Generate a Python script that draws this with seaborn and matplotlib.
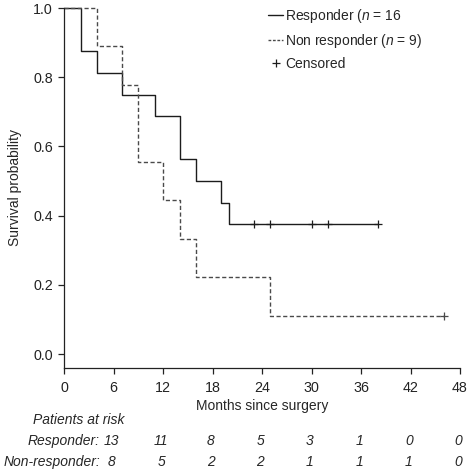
import matplotlib
matplotlib.use("Agg")
import matplotlib.pyplot as plt
import matplotlib.transforms as mtransforms
from matplotlib.lines import Line2D
import seaborn as sns
import pandas as pd

# ---- data ----
resp_times = [0, 2, 4, 7, 11, 14, 16, 19, 20, 38]
resp_surv = [1.0, 0.875, 0.8125, 0.75, 0.6875, 0.5625, 0.5, 0.4375, 0.375, 0.375]
resp_cens_t = [23, 25, 30, 32, 38]
resp_cens_s = [0.375, 0.375, 0.375, 0.375, 0.375]

non_times = [0, 4, 7, 9, 12, 14, 16, 25, 46]
non_surv = [1.0, 0.889, 0.778, 0.556, 0.444, 0.333, 0.222, 0.111, 0.111]
non_cens_t = [46]
non_cens_s = [0.111]

x_ticks = [0, 6, 12, 18, 24, 30, 36, 42, 48]
y_ticks = [0.0, 0.2, 0.4, 0.6, 0.8, 1.0]
risk_times = [6, 12, 18, 24, 30, 36, 42, 48]
risk_resp = [13, 11, 8, 5, 3, 1, 0, 0]
risk_non = [8, 5, 2, 2, 1, 1, 1, 0]

labels = ["Responder ($\\mathit{n}$ = 16", "Non responder ($\\mathit{n}$ = 9)", "Censored"]

# ---- style ----
sns.set_style("ticks")
plt.rcParams["font.family"] = ["Liberation Sans", "DejaVu Sans"]
plt.rcParams["mathtext.fontset"] = "custom"
plt.rcParams["mathtext.rm"] = "Liberation Sans"
plt.rcParams["mathtext.it"] = "Liberation Sans:italic"
FS = 10
FT = 10.3
FL = 10

fig = plt.figure(figsize=(4.72, 4.70), dpi=100)
ax = fig.add_axes([64 / 472, 1 - 368 / 470, 396 / 472, 360 / 470])

c_resp = "#1c1c1c"
c_non = "#4a4a4a"

df_r = pd.DataFrame({"t": resp_times, "s": resp_surv})
df_n = pd.DataFrame({"t": non_times, "s": non_surv})

sns.lineplot(data=df_r, x="t", y="s", ax=ax, estimator=None, sort=False,
             drawstyle="steps-post", color=c_resp, linewidth=1.0, clip_on=False)
sns.lineplot(data=df_n, x="t", y="s", ax=ax, estimator=None, sort=False,
             drawstyle="steps-post", color=c_non, linewidth=1.0,
             linestyle=(0, (3, 1.8)), clip_on=False)

sns.scatterplot(x=resp_cens_t, y=resp_cens_s, ax=ax, marker="+", s=36,
                color=c_resp, linewidth=0.9, clip_on=False)
sns.scatterplot(x=non_cens_t, y=non_cens_s, ax=ax, marker="+", s=36,
                color=c_non, linewidth=0.9, clip_on=False)

ax.set_xlim(0, 48)
ax.set_ylim(-0.04, 1.0)
ax.set_xticks(x_ticks)
ax.set_xticklabels([str(v) for v in x_ticks], fontsize=FT)
ax.set_yticks(y_ticks)
ax.set_yticklabels([f"{v:.1f}" for v in y_ticks], fontsize=FT)
ax.tick_params(direction="out", length=4.5, width=0.9, colors="#222222")
ax.tick_params(axis="x", pad=4.5)
ax.tick_params(axis="y", pad=3.5)
for sp in ["top", "right"]:
    ax.spines[sp].set_visible(False)
for sp in ["left", "bottom"]:
    ax.spines[sp].set_linewidth(0.9)
    ax.spines[sp].set_color("#222222")
ax.set_xlabel("Months since surgery", fontsize=FS, labelpad=3)
ax.set_ylabel("Survival probability", fontsize=FS, labelpad=8)

# legend
handles = [
    Line2D([], [], color=c_resp, lw=1.0),
    Line2D([], [], color=c_non, lw=1.0, linestyle=(0, (2, 1.2))),
    Line2D([], [], color=c_resp, lw=0, marker="+", ms=6, mew=0.9),
]
ax.legend(handles, labels, loc="upper left", frameon=False, fontsize=FL,
          bbox_to_anchor=(268 / 472, 1 - 7 / 470), bbox_transform=fig.transFigure,
          borderpad=0, borderaxespad=0, handlelength=1.1, handletextpad=0.15,
          labelspacing=0.5)

# patients at risk table
tr = mtransforms.blended_transform_factory(ax.transData, fig.transFigure)
fig.text(33 / 472, 1 - 420 / 470, "Patients at risk", fontsize=FS, style="italic",
         ha="left", va="center")
fig.text(100 / 472, 1 - 441 / 470, "Responder:", fontsize=FS, style="italic",
         ha="right", va="center")
fig.text(100 / 472, 1 - 462 / 470, "Non-responder:", fontsize=FS, style="italic",
         ha="right", va="center")
for t, r, n in zip(risk_times, risk_resp, risk_non):
    ax.text(t - 0.2, 1 - 441 / 470, str(r), transform=tr, fontsize=FS,
            style="italic", ha="center", va="center")
    ax.text(t - 0.2, 1 - 462 / 470, str(n), transform=tr, fontsize=FS,
            style="italic", ha="center", va="center")

fig.savefig("out.png", dpi=100)
